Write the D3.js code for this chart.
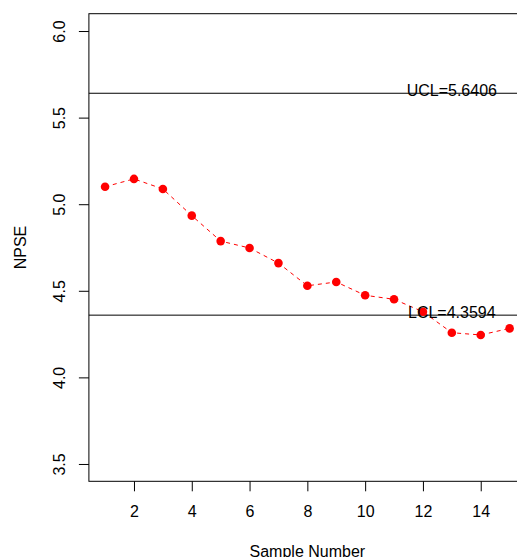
<!DOCTYPE html>
<html>
<head>
<meta charset="utf-8">
<script src="https://cdn.jsdelivr.net/npm/d3@7"></script>
<style>
  html, body { margin: 0; padding: 0; background: #fff; }
  svg { display: block; font-family: "Liberation Sans", Arial, sans-serif; }
</style>
</head>
<body>
<div id="chart"></div>
<script>
// sample numbers and NPSE values
const samples = [1, 2, 3, 4, 5, 6, 7, 8, 9, 10, 11, 12, 13, 14, 15]
const npse = [5.101, 5.146, 5.088, 4.934, 4.787, 4.747, 4.660, 4.529, 4.551, 4.474, 4.451, 4.379, 4.258, 4.245, 4.283]
const ucl = 5.6406
const lcl = 4.3594
const xTicks = [2, 4, 6, 8, 10, 12, 14]
const yTicks = [3.5, 4.0, 4.5, 5.0, 5.5, 6.0]

const width = 517, height = 557
// R style 4% axis extension
const xlim = [1, 15], ylim = [3.5, 6.0]
const xr = (xlim[1] - xlim[0]) * 0.04
const yr = (ylim[1] - ylim[0]) * 0.04

const x = d3.scaleLinear().domain([xlim[0] - xr, xlim[1] + xr]).range([88.9, 525.8])
const y = d3.scaleLinear().domain([ylim[0] - yr, ylim[1] + yr]).range([481.3, 13.7])

const svg = d3.select("#chart").append("svg")
  .attr("width", width)
  .attr("height", height)

// plot box
svg.append("rect")
  .attr("x", x.range()[0]).attr("y", y.range()[1])
  .attr("width", x.range()[1] - x.range()[0])
  .attr("height", y.range()[0] - y.range()[1])
  .attr("fill", "none").attr("stroke", "#000").attr("stroke-width", 1)

// x axis
const xAxis = svg.append("g")
  .attr("transform", `translate(0,${y.range()[0]})`)
  .call(d3.axisBottom(x).tickValues(xTicks).tickSize(10).tickPadding(14).tickFormat(d3.format("d")))
xAxis.select(".domain").remove()
xAxis.selectAll("text").attr("font-size", 16).attr("font-family", "Liberation Sans, Arial, sans-serif").attr("fill", "#000")

// y axis, labels rotated like R's default las=0
const yAxis = svg.append("g")
  .attr("transform", `translate(${x.range()[0]},0)`)
  .call(d3.axisLeft(y).tickValues(yTicks).tickSize(10).tickFormat(d3.format(".1f")))
yAxis.select(".domain").remove()
yAxis.selectAll("text")
  .attr("font-size", 16).attr("font-family", "Liberation Sans, Arial, sans-serif").attr("fill", "#000")
  .attr("text-anchor", "middle")
  .attr("x", null).attr("dy", null)
  .attr("transform", "translate(-24,0) rotate(-90)")

// axis titles
svg.append("text")
  .attr("x", (x.range()[0] + x.range()[1]) / 2)
  .attr("y", 557)
  .attr("text-anchor", "middle")
  .attr("font-size", 16)
  .text("Sample Number")

svg.append("text")
  .attr("transform", `translate(26,${(y.range()[0] + y.range()[1]) / 2}) rotate(-90)`)
  .attr("text-anchor", "middle")
  .attr("font-size", 16)
  .text("NPSE")

// control limits
const limits = [["UCL", ucl], ["LCL", lcl]]
limits.forEach(([name, v]) => {
  svg.append("line")
    .attr("x1", x.range()[0]).attr("x2", width)
    .attr("y1", y(v)).attr("y2", y(v))
    .attr("stroke", "#000").attr("stroke-width", 1)
})

// series
const pts = samples.map((s, i) => ({s, v: npse[i]}))
const line = d3.line().x(d => x(d.s)).y(d => y(d.v))

svg.append("path")
  .datum(pts)
  .attr("d", line)
  .attr("fill", "none")
  .attr("stroke", "#ff0000")
  .attr("stroke-width", 1)
  .attr("stroke-dasharray", "4,4")

svg.selectAll("circle.pt")
  .data(pts)
  .enter()
  .append("circle")
  .attr("class", "pt")
  .attr("cx", d => x(d.s))
  .attr("cy", d => y(d.v))
  .attr("r", 4.3)
  .attr("fill", "#ff0000")

// limit labels drawn on top, centred at sample 13
limits.forEach(([name, v]) => {
  svg.append("text")
    .attr("x", x(13))
    .attr("y", y(v) + 3)
    .attr("text-anchor", "middle")
    .attr("font-size", 16)
    .text(`${name}=${v.toFixed(4)}`)
})
</script>
</body>
</html>
